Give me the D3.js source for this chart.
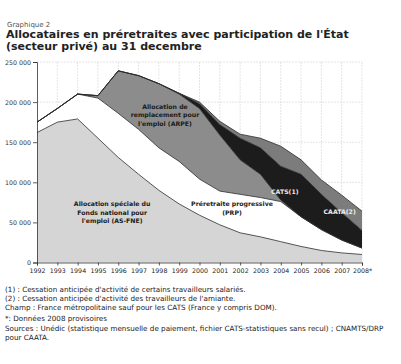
<!DOCTYPE html>
<html>
<head>
<meta charset="utf-8">
<script src="https://cdn.jsdelivr.net/npm/d3@7"></script>
<style>
  body { margin: 0; background: #fff; }
  text { font-family: "DejaVu Sans", Verdana, sans-serif; }
</style>
</head>
<body>
<script>
// valeurs au 31 decembre (milliers d'allocataires)
const years = [1992,1993,1994,1995,1996,1997,1998,1999,2000,2001,2002,2003,2004,2005,2006,2007,2008]
const asfne = [162,175,179,155,131,110,90,73,59,47,37,32,26,20,15,12,10]
const prp   = [13,17,31,50,55,56,53,53,45,42,48,49,50,37,26,16,8]
const arpe  = [0,0,0,3,53,67,80,84,88,70,43,29,2,0,0,0,0]
const cats  = [0,0,0,0,0,0,0,1,6,13,27,33,42,53,44,34,22]
const caata = [0,0,0,0,0,0,0,0,2,4,5,12,25,18,18,22,24]
const yTicks = [0,50000,100000,150000,200000,250000]
const yearLabels = ['1992','1993','1994','1995','1996','1997','1998','1999','2000','2001','2002','2003','2004','2005','2006','2007','2008*']

const keys = ['asfne','prp','arpe','cats','caata']
const fills = {asfne:'#d5d5d5', prp:'#ffffff', arpe:'#8c8c8c', cats:'#1c1c1c', caata:'#7c7c7c'}

const rows = years.map((yr,i) => ({
  year: yr,
  asfne: asfne[i]*1000,
  prp: prp[i]*1000,
  arpe: arpe[i]*1000,
  cats: cats[i]*1000,
  caata: caata[i]*1000
}))

const W = 401, H = 364
const svg = d3.select('body').append('svg')
  .attr('width', W)
  .attr('height', H)

const x = d3.scaleLinear().domain([1992,2008]).range([37,362])
const y = d3.scaleLinear().domain([0,250000]).range([262.5,62])

// grille
svg.append('g').selectAll('line')
  .data(years.slice(1))
  .enter().append('line')
  .attr('x1', d=>x(d)).attr('x2', d=>x(d))
  .attr('y1', y(250000)).attr('y2', y(0))
  .attr('stroke', '#d8d8d8')
  .attr('stroke-width', 0.7)
  .attr('stroke-dasharray', '2,1')
svg.append('g').selectAll('line')
  .data(yTicks.slice(1))
  .enter().append('line')
  .attr('x1', x(1992)).attr('x2', x(2008))
  .attr('y1', d=>y(d)).attr('y2', d=>y(d))
  .attr('stroke', '#d8d8d8')
  .attr('stroke-width', 0.7)
  .attr('stroke-dasharray', '2,1')

// aires empilees
const stack = d3.stack().keys(keys)
const series = stack(rows)
const area = d3.area()
  .x(d=>x(d.data.year))
  .y0(d=>y(d[0]))
  .y1(d=>y(d[1]))

svg.append('g').selectAll('path')
  .data(series)
  .enter().append('path')
  .attr('d', area)
  .attr('fill', d=>fills[d.key])

const line = d3.line()
  .x(d=>x(d.data.year))
  .y(d=>y(d[1]))
svg.append('g').selectAll('path')
  .data(series)
  .enter().append('path')
  .attr('d', line)
  .attr('fill', 'none')
  .attr('stroke', '#2a2a2a')
  .attr('stroke-width', 0.8)

// axes
const yAxis = d3.axisLeft(y).tickValues(yTicks).tickSize(4)
  .tickFormat(d => d3.format(',')(d).replace(/,/g,' '))
const gy = svg.append('g')
  .attr('transform', `translate(${x(1992)},0)`)
  .call(yAxis)
gy.select('.domain').attr('stroke', '#333').attr('stroke-width', 0.8)
gy.selectAll('.tick line').attr('stroke', '#333').attr('stroke-width', 0.8)
gy.selectAll('text').attr('font-size', '6.3px').attr('fill', '#333').attr('x', -6)

const xAxis = d3.axisBottom(x).tickValues(years).tickSize(3)
  .tickFormat((d,i) => yearLabels[i])
const gx = svg.append('g')
  .attr('transform', `translate(0,${y(0)})`)
  .call(xAxis)
gx.select('.domain').attr('stroke', '#333').attr('stroke-width', 0.8)
gx.selectAll('.tick line').attr('stroke', '#333').attr('stroke-width', 0.8)
gx.selectAll('text').attr('font-size', '6.3px').attr('fill', '#222').attr('y', 6)

// etiquettes dans le graphique
const labels = [
  {lines:['Allocation de','remplacement pour',"l'emploi (ARPE)"], yr:1998.3, v:192000, fill:'#1a1a1a'},
  {lines:['Allocation spéciale du','Fonds national pour',"l'emploi (AS-FNE)"], yr:1995.7, v:70000, fill:'#1a1a1a'},
  {lines:['Préretraite progressive','(PRP)'], yr:2001.6, v:70000, fill:'#1a1a1a'},
  {lines:['CATS(1)'], yr:2004.2, v:85000, fill:'#e8e8e8'},
  {lines:['CAATA(2)'], yr:2006.9, v:61000, fill:'#eeeeee'}
]
labels.forEach(lb => {
  const t = svg.append('text')
    .attr('x', x(lb.yr))
    .attr('y', y(lb.v))
    .attr('text-anchor', 'middle')
    .attr('font-size', '6.2px')
    .attr('font-weight', 'bold')
    .attr('fill', lb.fill)
  lb.lines.forEach((s,i) => {
    t.append('tspan').attr('x', x(lb.yr)).attr('dy', i ? 8.5 : 0).text(s)
  })
})

// titres
svg.append('text').attr('x', 7).attr('y', 27)
  .attr('font-size', '7px').attr('fill', '#555').text('Graphique 2')
svg.append('text').attr('x', 6).attr('y', 38)
  .attr('font-size', '11px').attr('font-weight', 'bold').attr('fill', '#222')
  .text("Allocataires en préretraites avec participation de l'État")
svg.append('text').attr('x', 6).attr('y', 50)
  .attr('font-size', '11px').attr('font-weight', 'bold').attr('fill', '#222')
  .text('(secteur privé) au 31 decembre')

// notes
const notes = [
  {t:"(1) : Cessation anticipée d'activité de certains travailleurs salariés.", y:292},
  {t:"(2) : Cessation anticipée d'activité des travailleurs de l'amiante.", y:301},
  {t:'Champ : France métropolitaine sauf pour les CATS (France y compris DOM).', y:310},
  {t:'*: Données 2008 provisoires', y:321},
  {t:'Sources : Unédic (statistique mensuelle de paiement, fichier CATS-statistiques sans recul) ; CNAMTS/DRP', y:331},
  {t:'pour CAATA.', y:340}
]
svg.append('g').selectAll('text')
  .data(notes)
  .enter().append('text')
  .attr('x', 5)
  .attr('y', d=>d.y)
  .attr('font-size', '7.2px')
  .attr('fill', '#222')
  .text(d=>d.t)
</script>
</body>
</html>
